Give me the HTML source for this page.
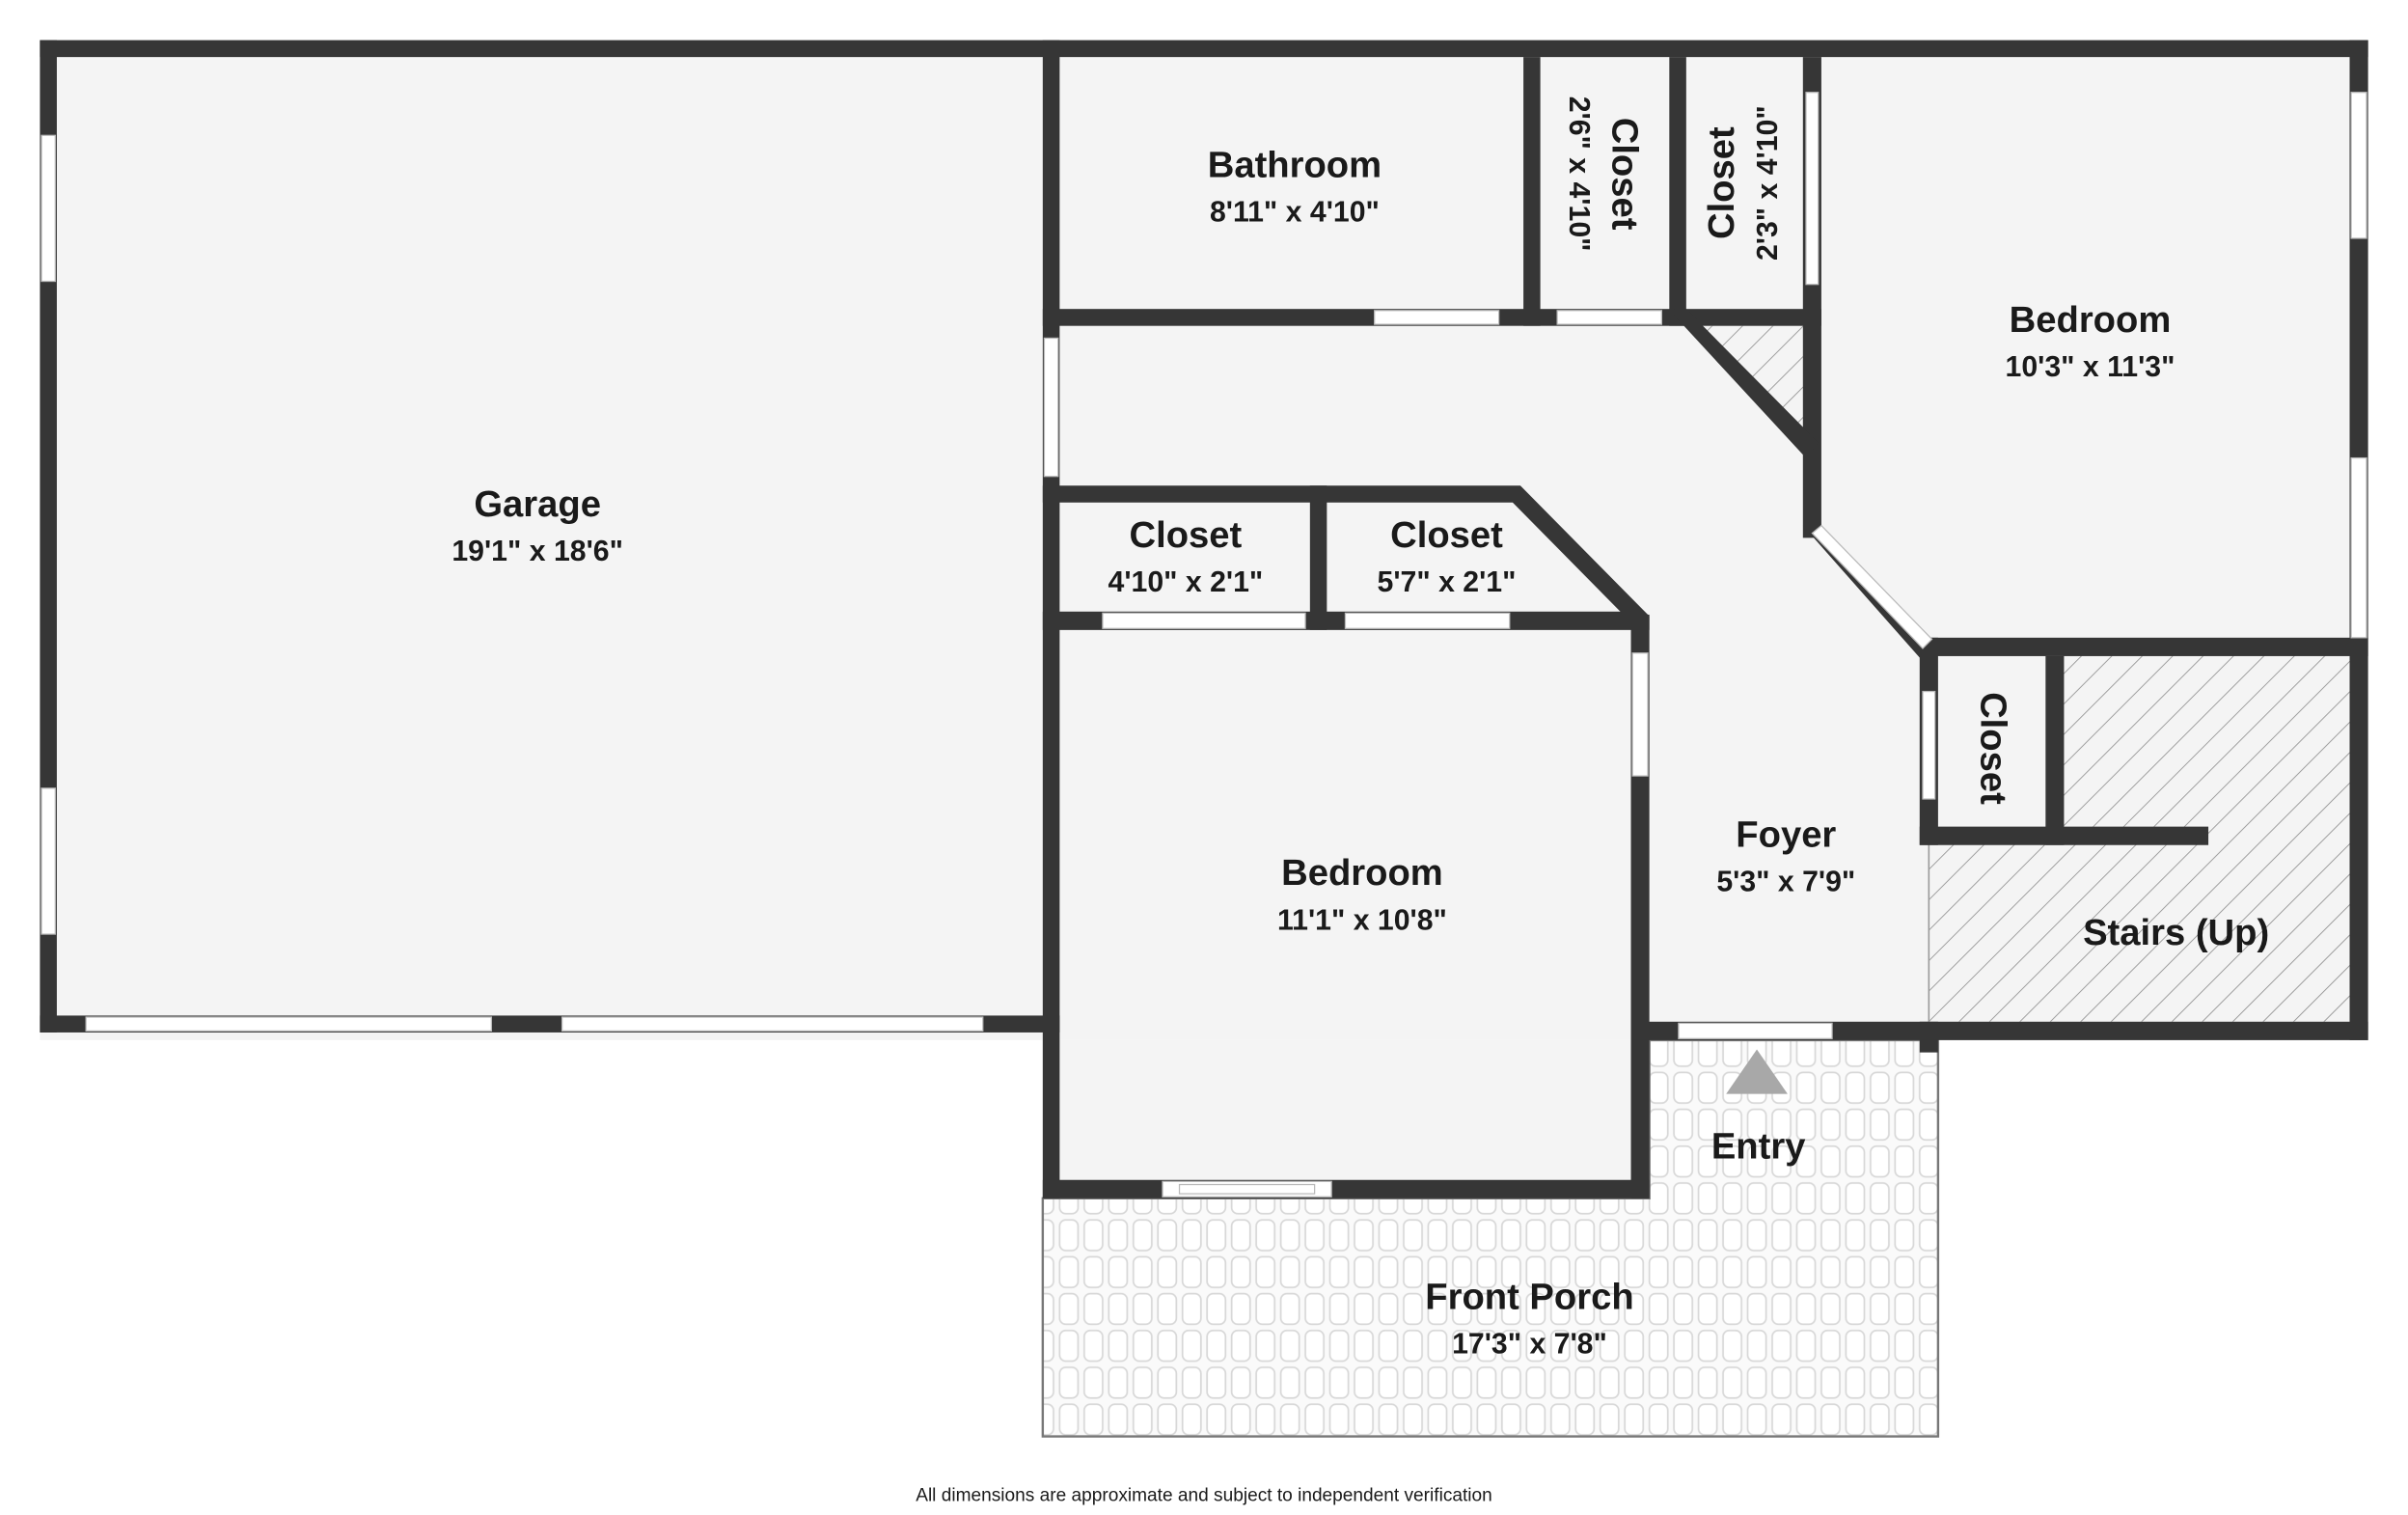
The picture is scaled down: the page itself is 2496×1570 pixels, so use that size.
<!DOCTYPE html>
<html><head><meta charset="utf-8"><style>
html,body{margin:0;padding:0;background:#fff}
svg{display:block}
text{font-family:"Liberation Sans",sans-serif;fill:#1a1a1a;text-anchor:middle}
.n{font-weight:bold;font-size:24px}
.d{font-weight:bold;font-size:19px}
</style></head><body>
<svg width="2496" height="1570" viewBox="0 0 1568 986" xmlns="http://www.w3.org/2000/svg">
<defs>
<pattern id="tile" width="16" height="24" patternUnits="userSpaceOnUse">
<rect width="16" height="24" fill="#fafafa"/>
<rect x="2" y="2" width="12" height="20" rx="4" fill="#fff" stroke="#d8d8d8" stroke-width="1.1"/>
</pattern>
<pattern id="hatch" width="14" height="14" patternUnits="userSpaceOnUse" patternTransform="rotate(45)">
<rect width="14" height="14" fill="#f4f4f4"/>
<line x1="0" y1="0" x2="0" y2="14" stroke="#888" stroke-width="1"/>
</pattern>
</defs>
<rect x="26" y="26" width="1516" height="651" fill="#f4f4f4"/>
<rect x="679" y="677" width="395" height="103" fill="#f4f4f4"/>
<polygon points="679,780 1074,780 1074,677 1262,677 1262,935 679,935" fill="url(#tile)" stroke="#777" stroke-width="1.5"/>
<polygon points="1098,212 1176,212 1176,292" fill="url(#hatch)"/>
<polygon points="1338,421 1536,421 1536,665 1256,665 1256,544 1338,544" fill="url(#hatch)"/>
<line x1="1256" y1="546" x2="1256" y2="665" stroke="#999" stroke-width="1"/>
<g fill="#363636">
<rect x="26" y="26" width="1516" height="11"/>
<rect x="26" y="26" width="11" height="646"/>
<rect x="1530" y="26" width="12" height="651"/>
<rect x="26" y="661" width="664" height="11"/>
<rect x="679" y="26" width="11" height="754"/>
<rect x="679" y="201" width="411" height="11"/>
<rect x="992" y="37" width="11" height="175"/>
<rect x="1087" y="37" width="11" height="175"/>
<rect x="1090" y="201" width="96" height="11"/>
<rect x="1174" y="37" width="12" height="313"/>
<polygon points="1090,205 1098,201 1184,288 1176,298"/>
<polygon points="1174,342 1186,342 1262,420 1250,428"/>
<rect x="1250" y="415" width="292" height="12"/>
<rect x="1250" y="415" width="12" height="135"/>
<rect x="1332" y="427" width="12" height="123"/>
<rect x="1250" y="538" width="188" height="12"/>
<rect x="1068" y="665" width="474" height="12"/>
<rect x="1250" y="665" width="12" height="20"/>
<polygon points="679,316 990,316 1074,401 1074,410 1062,410 1062,405 985,327 679,327"/>
<rect x="853" y="316" width="11" height="94"/>
<rect x="679" y="398" width="391" height="12"/>
<rect x="1062" y="400" width="12" height="380"/>
<rect x="679" y="768" width="395" height="12"/>
</g>
<g fill="#fff" stroke="#bbb" stroke-width="0.8">
<rect x="895" y="202" width="81" height="9"/>
<rect x="1014" y="202" width="68" height="9"/>
<rect x="1176" y="60" width="8" height="125"/>
<rect x="680" y="220" width="9" height="90"/>
<rect x="1531" y="60" width="10" height="95"/>
<rect x="1531" y="298" width="10" height="117"/>
<rect x="1252" y="450" width="8" height="70"/>
<rect x="1093" y="666" width="100" height="10"/>
<rect x="1063" y="425" width="10" height="80"/>
<rect x="718" y="399" width="132" height="10"/>
<rect x="876" y="399" width="107" height="10"/>
<rect x="56" y="662" width="264" height="9"/>
<rect x="366" y="662" width="274" height="9"/>
<rect x="27" y="88" width="9" height="95"/>
<rect x="27" y="513" width="9" height="95"/>
<rect x="757" y="769" width="110" height="10"/>
<rect x="768" y="771" width="88" height="6"/>
</g>
<polygon points="1180,347 1186,342 1258,416 1252,422" fill="#fff" stroke="#bbb" stroke-width="0.8"/>
<polygon points="1144,683 1124,712 1164,712" fill="#a8a8a8"/>
<text class="n" x="350" y="336">Garage</text><text class="d" x="350" y="365">19'1" x 18'6"</text>
<text class="n" x="843" y="115">Bathroom</text><text class="d" x="843" y="144">8'11" x 4'10"</text>
<text class="n" transform="translate(1050,113) rotate(90)">Closet</text>
<text class="d" transform="translate(1022,113) rotate(90)">2'6" x 4'10"</text>
<text class="n" transform="translate(1129,119) rotate(-90)">Closet</text>
<text class="d" transform="translate(1157,119) rotate(-90)">2'3" x 4'10"</text>
<text class="n" x="1361" y="216">Bedroom</text><text class="d" x="1361" y="245">10'3" x 11'3"</text>
<text class="n" x="772" y="356">Closet</text><text class="d" x="772" y="385">4'10" x 2'1"</text>
<text class="n" x="942" y="356">Closet</text><text class="d" x="942" y="385">5'7" x 2'1"</text>
<text class="n" x="1163" y="551">Foyer</text><text class="d" x="1163" y="580">5'3" x 7'9"</text>
<text class="n" x="887" y="576">Bedroom</text><text class="d" x="887" y="605">11'1" x 10'8"</text>
<text class="n" transform="translate(1290,487) rotate(90)">Closet</text>
<text class="n" x="1417" y="615">Stairs (Up)</text>
<text class="n" x="1145" y="754">Entry</text>
<text class="n" x="996" y="852">Front Porch</text><text class="d" x="996" y="881">17'3" x 7'8"</text>
<text x="784" y="977" style="font-size:12px">All dimensions are approximate and subject to independent verification</text>
</svg>
</body></html>
